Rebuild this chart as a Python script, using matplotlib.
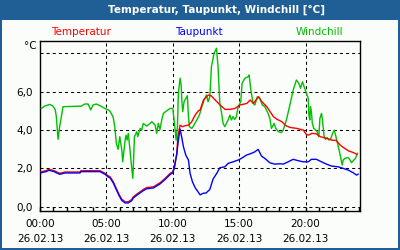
import matplotlib
matplotlib.use('Agg')
import matplotlib.pyplot as plt
from matplotlib.patches import Rectangle
from matplotlib.ticker import MultipleLocator

# Temperatur (Stunden seit 00:00, Wert in °C)
temp_h = [0.08, 0.45, 0.68, 1.06, 1.48, 1.88, 3.01, 3.09, 4.52, 4.90, 5.12, 5.28, 5.52, 5.78,
          5.98, 6.16, 6.41, 6.65, 6.91, 7.03, 7.29, 7.78, 8.04, 8.54, 9.04, 9.42, 9.80, 10.00,
          10.12, 10.30, 10.38, 10.55, 10.72, 10.93, 11.18, 11.43, 11.68, 11.93, 12.06, 12.31,
          12.68, 12.89, 13.19, 13.56, 13.94, 14.32, 14.69, 15.07, 15.58, 15.83, 16.07, 16.45,
          16.71, 17.08, 17.33, 17.58, 17.84, 18.21, 18.54, 18.84, 19.34, 19.84, 20.05, 20.22,
          20.47, 20.80, 21.10, 21.60, 21.98, 22.31, 22.61, 22.86, 23.23, 23.61, 23.87]
temp = [1.82, 1.88, 1.95, 1.88, 1.74, 1.81, 1.81, 1.88, 1.88, 1.74, 1.62, 1.56, 1.30, 0.90,
        0.61, 0.39, 0.26, 0.26, 0.38, 0.52, 0.66, 0.90, 1.00, 1.04, 1.25, 1.48, 1.74, 1.82,
        2.08, 2.75, 3.65, 4.25, 4.17, 4.22, 4.25, 4.43, 4.77, 5.00, 5.04, 5.56,
        5.82, 5.78, 5.56, 5.30, 5.07, 5.07, 5.12, 5.30, 5.38, 5.56, 5.38, 5.73,
        5.47, 5.21, 4.95, 4.69, 4.56, 4.43, 4.21, 4.13, 4.08, 3.99, 3.77, 3.73,
        3.82, 3.80, 3.65, 3.56, 3.47, 3.45, 3.21, 3.08, 2.91, 2.82, 2.73]

# Taupunkt
dew_h = [0.08, 0.45, 0.68, 1.06, 1.48, 1.88, 3.01, 3.09, 4.52, 4.90, 5.12, 5.28, 5.52, 5.78,
         5.98, 6.16, 6.41, 6.65, 6.91, 7.03, 7.29, 7.78, 8.04, 8.54, 9.04, 9.42, 9.80, 10.00,
         10.12, 10.30, 10.42, 10.55, 10.68, 10.80, 10.98, 11.18, 11.30, 11.48, 11.68, 11.93,
         12.06, 12.28, 12.51, 12.79, 13.04, 13.32, 13.54, 13.92, 14.17, 14.54, 14.92, 15.17,
         15.55, 15.92, 16.18, 16.43, 16.68, 16.93, 17.31, 17.69, 18.09, 18.31, 18.69, 19.07,
         19.44, 19.82, 20.20, 20.44, 20.82, 21.20, 21.58, 21.95, 22.46, 22.83, 23.21, 23.59,
         23.84, 23.96]
dew = [1.77, 1.83, 1.90, 1.83, 1.69, 1.76, 1.76, 1.83, 1.83, 1.69, 1.56, 1.50, 1.24, 0.84,
       0.55, 0.33, 0.20, 0.20, 0.32, 0.46, 0.60, 0.84, 0.94, 0.98, 1.19, 1.42, 1.68, 1.77,
       2.03, 2.75, 3.45, 4.05, 3.60, 3.13, 2.69, 2.43, 1.75, 1.30, 1.00, 0.75,
       0.62, 0.70, 0.72, 0.90, 1.45, 1.75, 2.03, 2.08, 2.26, 2.34, 2.43, 2.52,
       2.69, 2.78, 2.86, 2.99, 2.64, 2.52, 2.29, 2.22, 2.24, 2.22, 2.34, 2.47,
       2.40, 2.34, 2.34, 2.47, 2.47, 2.34, 2.22, 2.12, 2.08, 2.00, 1.91, 1.77,
       1.65, 1.70]

# Windchill
wc_h = [0.10, 0.35, 0.73, 0.98, 1.15, 1.23, 1.36, 1.48, 1.61, 1.73, 3.11, 3.37, 3.62, 3.82,
        3.99, 4.24, 4.50, 4.88, 5.25, 5.50, 5.63, 5.75, 5.88, 6.01, 6.16, 6.23, 6.41, 6.48,
        6.56, 6.65, 6.78, 6.91, 6.99, 7.03, 7.11, 7.29, 7.36, 7.54, 7.66, 7.78, 8.04, 8.29,
        8.42, 8.67, 8.79, 8.91, 9.04, 9.17, 9.29, 9.55, 9.80, 10.00, 10.10, 10.17, 10.25,
        10.35, 10.42, 10.55, 10.63, 10.68, 10.75, 10.85, 11.00, 11.10, 11.18, 11.25, 11.43,
        11.55, 11.81, 12.00, 12.15, 12.36, 12.53, 12.66, 12.79, 12.91, 13.11, 13.29, 13.41,
        13.54, 13.66, 13.79, 13.92, 14.17, 14.30, 14.42, 14.54, 14.67, 14.79, 14.92, 15.12,
        15.22, 15.43, 15.67, 15.75, 15.88, 16.05, 16.18, 16.37, 16.55, 16.75, 16.93, 17.18,
        17.31, 17.43, 17.63, 17.76, 17.94, 18.18, 18.31, 18.56, 18.82, 19.07, 19.31, 19.49,
        19.62, 19.77, 19.89, 20.07, 20.20, 20.25, 20.32, 20.37, 20.44, 20.51, 20.62, 20.75,
        20.87, 21.00, 21.08, 21.20, 21.27, 21.40, 21.50, 21.63, 21.76, 21.91, 22.03, 22.16,
        22.26, 22.41, 22.58, 22.76, 22.83, 22.96, 23.21, 23.34, 23.46, 23.59, 23.76, 23.91]
wc = [5.12, 5.24, 5.33, 5.24, 5.04, 4.69, 3.51, 4.17, 4.69, 5.21, 5.24, 5.35, 5.35, 5.04,
      5.30, 5.35, 5.27, 5.12, 5.00, 4.69, 4.17, 3.30, 2.99, 3.65, 2.95, 2.34, 3.47, 3.73,
      3.47, 3.82, 2.95, 2.00, 1.48, 2.08, 3.65, 3.91, 3.65, 4.08, 3.99, 4.34, 4.20, 4.34,
      4.43, 4.25, 3.82, 4.34, 4.03, 4.52, 4.86, 5.00, 5.12, 5.12, 4.52, 4.08, 3.47,
      4.17, 5.91, 6.69, 6.34, 5.56, 4.95, 5.47, 5.65, 5.78, 4.69, 4.17, 4.08,
      4.20, 4.52, 4.77, 5.12, 5.56, 5.82, 5.47, 5.73, 7.29, 7.99, 8.25, 7.29,
      5.39, 4.95, 4.34, 4.17, 4.52, 4.77, 4.52, 4.69, 4.55, 4.69, 5.21, 5.47,
      6.43, 6.69, 6.77, 6.86, 6.08, 5.38, 5.30, 5.73, 5.65, 5.30, 5.21, 4.86,
      4.60, 4.08, 4.34, 4.08, 3.91, 3.86, 3.99, 4.52, 5.30, 6.08, 6.60, 6.43,
      6.17, 6.51, 6.25, 5.91, 5.65, 4.77, 4.52, 5.21, 4.95, 4.34, 4.08, 3.99,
      3.91, 3.65, 4.60, 4.86, 4.52, 3.65, 3.51, 3.60, 3.47, 3.56, 3.82, 3.99,
      3.73, 3.30, 2.78, 2.17, 2.43, 2.52, 2.56, 2.45, 2.29, 2.40, 2.52, 2.78]

tick_hours = [0, 5, 10, 15, 20]
tick_labels = ['00:00\n26.02.13', '05:00\n26.02.13', '10:00\n26.02.13',
               '15:00\n26.02.13', '20:00\n26.02.13']
y_ticks = [0, 2, 4, 6]
y_labels = ['0,0', '2,0', '4,0', '6,0']

plt.rcParams['lines.scale_dashes'] = False
bg = '#fafdfa'
frame_blue = '#1f5f95'

fig = plt.figure(figsize=(4, 2.5), dpi=100, facecolor=bg)

# Titelleiste und Rahmen
fig.patches.append(Rectangle((0, 1 - 20 / 250), 1, 20 / 250, transform=fig.transFigure,
                             facecolor=frame_blue, edgecolor='none', zorder=0))
fig.patches.append(Rectangle((0, 0), 2 / 400, 1, transform=fig.transFigure,
                             facecolor=frame_blue, edgecolor='none', zorder=0))
fig.patches.append(Rectangle((1 - 2 / 400, 0), 2 / 400, 1, transform=fig.transFigure,
                             facecolor=frame_blue, edgecolor='none', zorder=0))
fig.patches.append(Rectangle((0, 0), 1, 2 / 250, transform=fig.transFigure,
                             facecolor=frame_blue, edgecolor='none', zorder=0))

fig.text(217 / 400, 1 - 10 / 250, 'Temperatur, Taupunkt, Windchill [°C]', color='white',
         fontsize=7.5, fontweight='bold', ha='center', va='center')

fig.text(81 / 400, 1 - 32 / 250, 'Temperatur', color='#ff0000', fontsize=7.5, ha='center', va='center')
fig.text(199 / 400, 1 - 32 / 250, 'Taupunkt', color='#0000ff', fontsize=7.5, ha='center', va='center')
fig.text(319 / 400, 1 - 32 / 250, 'Windchill', color='#00c000', fontsize=7.5, ha='center', va='center')
fig.text(30 / 400, 1 - 46 / 250, '°C', color='black', fontsize=7.5, ha='center', va='center')

ax = fig.add_axes([40 / 400, 1 - 211 / 250, 320 / 400, 170 / 250])
ax.set_facecolor(bg)

ax.plot(wc_h, wc, color='#00c000', lw=1.0, zorder=3)
ax.plot(temp_h, temp, color='#ff0000', lw=1.0, zorder=4)
ax.plot(dew_h, dew, color='#0000ff', lw=1.0, zorder=5)

ax.set_xlim(0, 24.1)
ax.set_ylim(-0.22, 8.63)

ax.set_xticks(tick_hours)
ax.set_xticklabels(tick_labels, fontsize=7.5, linespacing=1.6)
ax.xaxis.set_minor_locator(MultipleLocator(1))
ax.tick_params(axis='x', which='both', direction='in', length=3, width=1, pad=6)
ax.set_yticks(y_ticks)
ax.set_yticklabels(y_labels, fontsize=7.5)
ax.tick_params(axis='y', length=0, pad=5)

for v in [0, 2, 4, 6, 8]:
    ax.axhline(v, color='black', lw=0.75, dashes=(2.2, 2.2), zorder=2)
for h in [5, 10, 15, 20]:
    ax.axvline(h, color='black', lw=0.75, dashes=(2.2, 2.2), zorder=2)

for s in ax.spines.values():
    s.set_color('black')
    s.set_linewidth(1.0)

fig.savefig('out.png', dpi=100, facecolor=bg)
